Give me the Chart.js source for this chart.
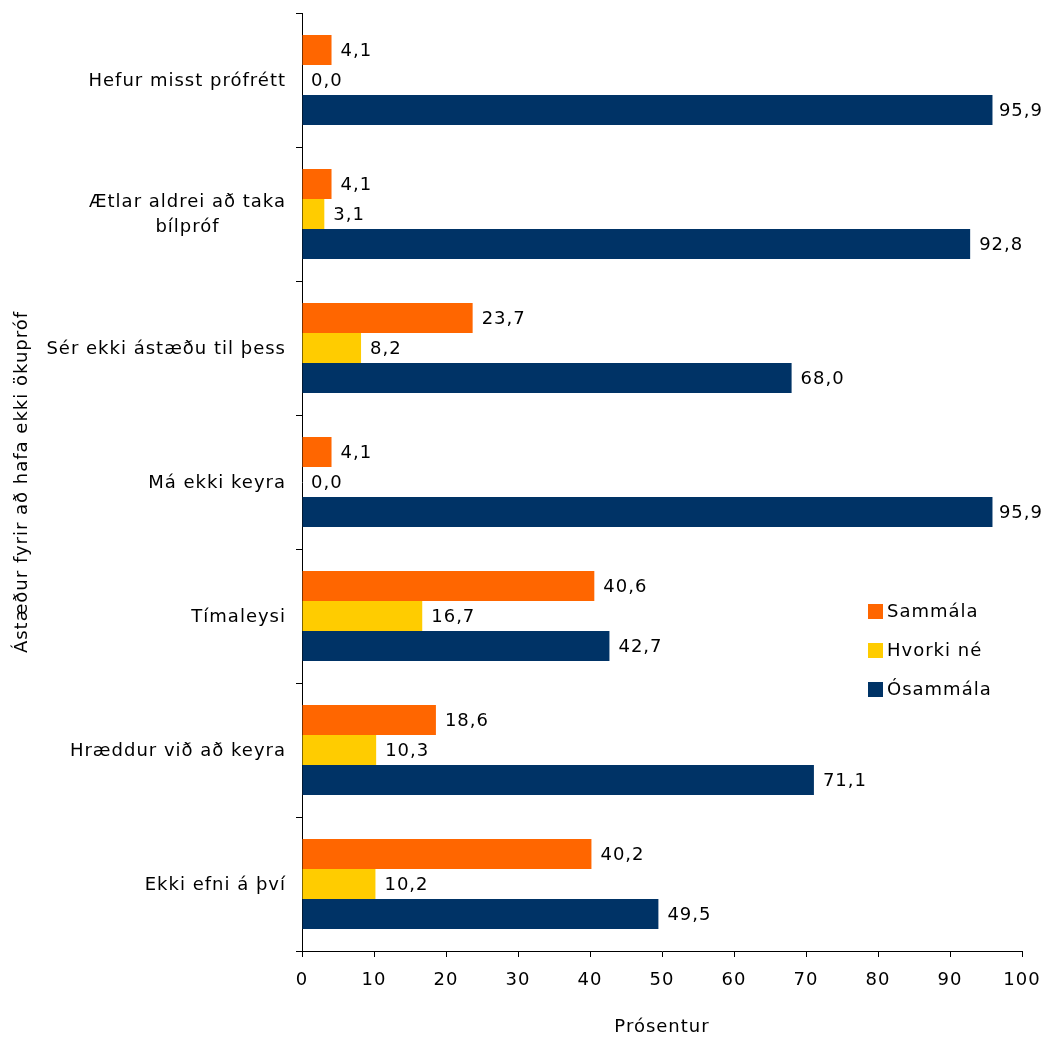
<!DOCTYPE html>
<html>
<head>
<meta charset="utf-8">
<script src="https://cdn.jsdelivr.net/npm/chart.js@4.4.0/dist/chart.umd.min.js"></script>
<style>
  body { margin: 0; background: #fff; }
  #wrap { width: 1047px; height: 1038px; }
</style>
</head>
<body>
<div id="wrap"><canvas id="reasonsChart" width="1047" height="1038"></canvas></div>
<script>
// categories (top to bottom)
const categories = [
    ['Hefur misst prófrétt'],
    ['Ætlar aldrei að taka', 'bílpróf'],
    ['Sér ekki ástæðu til þess'],
    ['Má ekki keyra'],
    ['Tímaleysi'],
    ['Hræddur við að keyra'],
    ['Ekki efni á því']
];
const seriesNames = ['Sammála', 'Hvorki né', 'Ósammála'];
const sammala   = [4.1, 4.1, 23.7, 4.1, 40.6, 18.6, 40.2];
const hvorkiNe  = [0.0, 3.1, 8.2, 0.0, 16.7, 10.3, 10.2];
const osammala  = [95.9, 92.8, 68.0, 95.9, 42.7, 71.1, 49.5];
const xTicks = [0, 10, 20, 30, 40, 50, 60, 70, 80, 90, 100];
const colors = ['#FF6600', '#FFCC00', '#003366'];

const FONT = 'DejaVu Sans, Verdana, sans-serif';
const SPACING = '1px'; // widen DejaVu towards Verdana

// letter spacing for everything the chart writes
const wideText = {
    id: 'wideText',
    beforeDraw(chart) { chart.ctx.letterSpacing = SPACING; }
};

// values next to the bars, comma as decimal mark
const valueLabels = {
    id: 'valueLabels',
    afterDatasetsDraw(chart) {
        const ctx = chart.ctx;
        ctx.save();
        ctx.letterSpacing = SPACING;
        ctx.font = '18px ' + FONT;
        ctx.fillStyle = '#000';
        ctx.textAlign = 'left';
        ctx.textBaseline = 'middle';
        chart.data.datasets.forEach((ds, i) => {
            chart.getDatasetMeta(i).data.forEach((bar, j) => {
                const txt = ds.data[j].toFixed(1).replace('.', ',');
                const w = ctx.measureText(txt).width;
                const x = Math.min(bar.x + 9, chart.width - w - 4);
                ctx.fillText(txt, x, bar.y + 1);
            });
        });
        ctx.restore();
    }
};

// category labels, multi-line ones centred on their widest line
const categoryLabels = {
    id: 'categoryLabels',
    afterDraw(chart) {
        const ctx = chart.ctx;
        const y = chart.scales.y;
        const rightEdge = chart.chartArea.left - 16;
        const lh = 25;
        ctx.save();
        ctx.letterSpacing = SPACING;
        ctx.font = '18px ' + FONT;
        ctx.fillStyle = '#000';
        ctx.textBaseline = 'middle';
        ctx.textAlign = 'center';
        categories.forEach((lines, i) => {
            const py = y.getPixelForValue(i);
            const w = Math.max(...lines.map(l => ctx.measureText(l).width));
            const cx = rightEdge - w / 2;
            const y0 = py - (lines.length - 1) * lh / 2;
            lines.forEach((l, k) => ctx.fillText(l, cx, y0 + k * lh + 1));
        });
        ctx.restore();
    }
};

// legend inside the plot
const insideLegend = {
    id: 'insideLegend',
    afterDraw(chart) {
        const ctx = chart.ctx;
        ctx.save();
        ctx.letterSpacing = SPACING;
        ctx.font = '18px ' + FONT;
        ctx.textBaseline = 'middle';
        ctx.textAlign = 'left';
        seriesNames.forEach((name, i) => {
            const cy = 611 + i * 39;
            ctx.fillStyle = colors[i];
            ctx.fillRect(868, cy - 7, 15, 15);
            ctx.fillStyle = '#000';
            ctx.fillText(name, 887, cy + 1);
        });
        ctx.restore();
    }
};

const ctx = document.getElementById('reasonsChart').getContext('2d');
const chart = new Chart(ctx, {
    type: 'bar',
    data: {
        labels: categories.map(c => c.join(' ')),
        datasets: [
            { label: seriesNames[0], data: sammala, backgroundColor: colors[0] },
            { label: seriesNames[1], data: hvorkiNe, backgroundColor: colors[1] },
            { label: seriesNames[2], data: osammala, backgroundColor: colors[2] }
        ]
    },
    options: {
        indexAxis: 'y',
        responsive: false,
        animation: false,
        devicePixelRatio: 1,
        layout: { padding: { top: 13, right: 25, bottom: 0, left: 0 } },
        datasets: {
            bar: { categoryPercentage: 0.672, barPercentage: 1.0, borderWidth: 0 }
        },
        plugins: {
            legend: { display: false },
            tooltip: { enabled: false }
        },
        scales: {
            x: {
                min: 0,
                max: 100,
                afterBuildTicks: axis => { axis.ticks = xTicks.map(v => ({ value: v })); },
                afterFit: axis => {
                    axis.height = 87;
                    axis.paddingLeft = 0;
                    axis.paddingRight = 0;
                },
                grid: { drawOnChartArea: false, tickLength: 6, color: '#000' },
                border: { color: '#000', width: 1 },
                ticks: { color: '#000', font: { family: FONT, size: 18 }, padding: 13, maxRotation: 0 },
                title: {
                    display: true,
                    text: 'Prósentur',
                    color: '#000',
                    font: { family: FONT, size: 18 },
                    padding: { top: 0, bottom: 0 }
                }
            },
            y: {
                afterFit: axis => {
                    axis.width = 302;
                    axis.paddingTop = 0;
                    axis.paddingBottom = 0;
                },
                grid: { offset: true, drawOnChartArea: false, tickLength: 6, color: '#000' },
                border: { color: '#000', width: 1 },
                ticks: { display: false },
                title: {
                    display: true,
                    text: 'Ástæður fyrir að hafa ekki ökupróf',
                    color: '#000',
                    font: { family: FONT, size: 18 },
                    padding: { top: 12, bottom: 0 }
                }
            }
        }
    },
    plugins: [wideText, valueLabels, categoryLabels, insideLegend]
});
</script>
</body>
</html>
